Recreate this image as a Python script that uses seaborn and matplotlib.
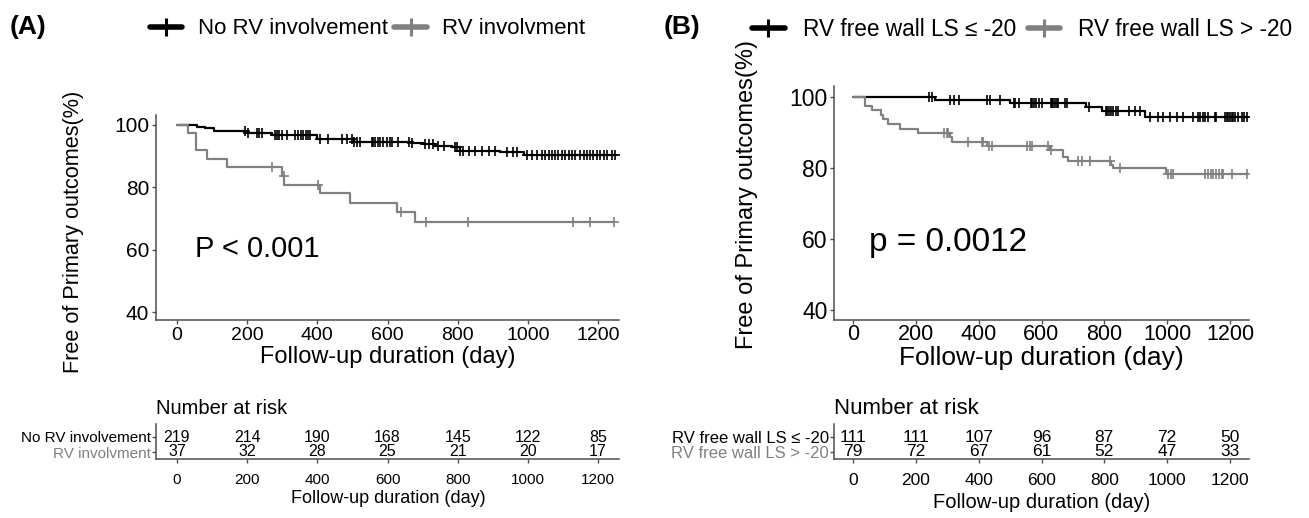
import numpy as np
import pandas as pd
import matplotlib
matplotlib.use("Agg")
import matplotlib.pyplot as plt
from matplotlib.lines import Line2D
import seaborn as sns

# DATOS

x_ticks = [0, 200, 400, 600, 800, 1000, 1200]
y_ticks = [40, 60, 80, 100]
risk_times = [0, 200, 400, 600, 800, 1000, 1200]

# panel A
a_labels = ["No RV involvement", "RV involvment"]
a_no_times = [0, 57, 80, 106, 200, 271, 399, 505, 669, 702, 735, 783, 807, 921, 989]
a_no_surv = [100, 99.5, 98.9, 98.1, 97.4, 96.8, 95.4, 94.6, 94.1, 93.8, 93.4, 92.8, 91.8, 91.2, 90.5]
a_no_cens = [194, 202, 227, 235, 243, 279, 284, 291, 298, 313, 336, 344, 354, 360, 367,
             374, 379, 408, 431, 469, 484, 498, 505, 512, 522, 555, 560, 564, 572, 579,
             588, 598, 607, 612, 631, 660, 669, 707, 717, 731, 745, 760, 793, 799, 807,
             816, 831, 850, 869, 888, 907, 940, 959, 969, 997, 1011, 1026, 1040, 1049,
             1059, 1068, 1078, 1087, 1097, 1106, 1116, 1125, 1135, 1149, 1159, 1168,
             1178, 1187, 1197, 1206, 1216, 1225, 1239, 1249]
a_rv_times = [0, 32, 54, 85, 143, 298, 306, 408, 493, 628, 677]
a_rv_surv = [100, 97.3, 91.9, 89.2, 86.6, 83.7, 80.9, 78.1, 75.1, 72.0, 68.9]
a_rv_cens = [270, 304, 403, 638, 710, 830, 1130, 1178, 1245]
a_risk_no = [219, 214, 190, 168, 145, 122, 85]
a_risk_rv = [37, 32, 28, 25, 21, 20, 17]
a_pval = "P < 0.001"

# panel B
b_labels = ["RV free wall LS \u2264 -20", "RV free wall LS > -20"]
b_lo_times = [0, 261, 501, 742, 791, 929]
b_lo_surv = [100, 99.1, 98.2, 97.1, 96.1, 94.4]
b_lo_cens = [243, 250, 309, 320, 336, 426, 437, 469, 512, 517, 528, 565, 570, 575, 581,
             591, 602, 629, 632, 637, 643, 648, 653, 676, 680, 750, 804, 810, 815, 820,
             828, 836, 845, 880, 897, 913, 945, 972, 987, 1008, 1030, 1051, 1083, 1099,
             1104, 1113, 1120, 1131, 1152, 1157, 1184, 1190, 1195, 1200, 1205, 1211,
             1216, 1226, 1237, 1244, 1255]
b_hi_times = [0, 38, 59, 88, 96, 110, 150, 208, 309, 316, 426, 627, 669, 684, 820, 828, 996]
b_hi_surv = [100, 97.5, 96.2, 95.0, 93.7, 92.4, 91.1, 89.9, 88.6, 87.3, 86.1, 85.0,
             83.2, 82.0, 80.8, 79.9, 78.4]
b_hi_cens = [291, 298, 302, 367, 411, 415, 434, 441, 555, 563, 570, 620, 629, 715, 730,
             754, 819, 851, 1004, 1012, 1020, 1120, 1131, 1138, 1147, 1157, 1165, 1173,
             1178, 1205, 1253]
b_risk_lo = [111, 111, 107, 96, 87, 72, 50]
b_risk_hi = [79, 72, 67, 61, 52, 47, 33]
b_pval = "p = 0.0012"

BLACK = "#000000"
GREY = "#808080"
SPINE = "#4d4d4d"
W, H = 1309, 518

sns.set_theme(style="ticks")
plt.rcParams["font.family"] = ["Liberation Sans", "DejaVu Sans"]
plt.rcParams["text.color"] = BLACK
plt.rcParams["axes.labelcolor"] = BLACK
plt.rcParams["xtick.labelcolor"] = BLACK
plt.rcParams["ytick.labelcolor"] = BLACK


def curve_frame(times, surv, cens):
    t = list(times) + [max(cens)]
    s = list(surv) + [surv[-1]]
    return pd.DataFrame({"time": t, "surv": s})


def cens_frame(times, surv, cens):
    idx = np.searchsorted(times, cens, side="right") - 1
    return pd.DataFrame({"time": cens, "surv": np.array(surv)[idx]})


def make_axes(fig, xpx, xval, ypx, yval, xlim, ylim):
    sx = (xpx[1] - xpx[0]) / (xval[1] - xval[0])
    left = xpx[0] + (xlim[0] - xval[0]) * sx
    right = xpx[0] + (xlim[1] - xval[0]) * sx
    sy = (ypx[1] - ypx[0]) / (yval[1] - yval[0])
    top = ypx[0] + (ylim[1] - yval[0]) * sy
    bottom = ypx[0] + (ylim[0] - yval[0]) * sy
    ax = fig.add_axes([left / W, 1 - bottom / H, (right - left) / W, (bottom - top) / H])
    ax.set_xlim(xlim)
    ax.set_ylim(ylim)
    for side in ["top", "right"]:
        ax.spines[side].set_visible(False)
    for side in ["left", "bottom"]:
        ax.spines[side].set_color(SPINE)
        ax.spines[side].set_linewidth(1.1)
    ax.tick_params(color=SPINE, length=3, width=1, pad=2)
    return ax


def km_panel(ax, curves, pval, p_y, tick_fs, ytick_fs, label_fs, ylab_fs, p_fs,
             ylab_x, ylab_y, xpad):
    for times, surv, cens, color in curves:
        sns.lineplot(data=curve_frame(times, surv, cens), x="time", y="surv",
                     drawstyle="steps-post", color=color, lw=1.6,
                     estimator=None, sort=False, ax=ax)
        sns.scatterplot(data=cens_frame(times, surv, cens), x="time", y="surv",
                        marker="+", s=60, linewidth=1.2, color=color, ax=ax)
    ax.set_xticks(x_ticks)
    ax.set_yticks(y_ticks)
    ax.tick_params(axis="x", labelsize=tick_fs, pad=xpad)
    ax.tick_params(axis="y", labelsize=ytick_fs)
    ax.set_xlabel("Follow-up duration (day)", fontsize=label_fs, labelpad=1)
    ax.set_ylabel("Free of Primary outcomes(%)", fontsize=ylab_fs)
    ax.yaxis.set_label_coords(ylab_x, ylab_y)
    ax.text(52, p_y, pval, fontsize=p_fs, ha="left", va="center")


def risk_table(ax, labels, rows, lab_fs, num_fs, tick_fs, xlab_fs, title_fs, xlab_pad):
    for row_y, vals in zip([1, 0], rows):
        for t, v in zip(risk_times, vals):
            ax.text(t, row_y, str(v), ha="center", va="center", fontsize=num_fs)
    ax.set_yticks([1, 0])
    ax.set_yticklabels(labels, fontsize=lab_fs)
    ax.get_yticklabels()[0].set_color(BLACK)
    ax.get_yticklabels()[1].set_color(GREY)
    ax.set_xticks(x_ticks)
    ax.tick_params(axis="x", labelsize=tick_fs, pad=7)
    ax.tick_params(axis="y", length=3, pad=1)
    ax.set_xlabel("Follow-up duration (day)", fontsize=xlab_fs, labelpad=xlab_pad)
    ax.set_title("Number at risk", loc="left", fontsize=title_fs, pad=7)


fig = plt.figure(figsize=(W / 100, H / 100), dpi=100)

# PANEL A
ax_a = make_axes(fig, (177, 598), (0, 1200), (125, 312), (100, 40), (-59, 1261), (37.3, 103.1))
km_panel(ax_a,
         [(a_no_times, a_no_surv, a_no_cens, BLACK),
          (a_rv_times, a_rv_surv, a_rv_cens, GREY)],
         a_pval, 60.3, 14, 15, 17, 15.6, 21, (84 - 156.3) / 463, 0.43, 2)

tab_a = make_axes(fig, (177, 598), (0, 1200), (437, 452), (1, 0), (-59, 1261), (-0.47, 1.87))
risk_table(tab_a, a_labels, [a_risk_no, a_risk_rv], 11, 11.5, 11, 13, 14.5, 2)

# PANEL B
ax_b = make_axes(fig, (853, 1230), (0, 1200), (97, 310), (100, 40), (-59, 1261), (37.3, 103.1))
km_panel(ax_b,
         [(b_lo_times, b_lo_surv, b_lo_cens, BLACK),
          (b_hi_times, b_hi_surv, b_hi_cens, GREY)],
         b_pval, 59.0, 15.5, 16.5, 19, 17, 24, (758 - 834.5) / 415, 0.535, 0)

tab_b = make_axes(fig, (853, 1230), (0, 1200), (437, 452), (1, 0), (-59, 1261), (-0.47, 1.87))
risk_table(tab_b, b_labels, [b_risk_lo, b_risk_hi], 12, 12.5, 12.5, 14.5, 16, 4)

# LEYENDAS

legend_opts = [
    (150, a_labels, 16, 0.7, 0.3),
    (752, b_labels, 16.3, 0.8, 0.5),
]
for x0, labels, fs, tpad, cspace in legend_opts:
    handles = [Line2D([], [], color=c, lw=4, marker="+", markersize=13, mew=2.2)
               for c in [BLACK, GREY]]
    fig.legend(handles, labels, loc="center left", bbox_to_anchor=(x0 / W, 1 - 29 / H),
               ncol=2, frameon=False, fontsize=fs, handlelength=1.45,
               handletextpad=tpad, columnspacing=cspace, borderaxespad=0, borderpad=0)

fig.text(10 / W, 1 - 27 / H, "(A)", fontsize=19, fontweight="bold", va="center")
fig.text(664 / W, 1 - 27 / H, "(B)", fontsize=19, fontweight="bold", va="center")

plt.savefig("out.png", dpi=100)
plt.close()
